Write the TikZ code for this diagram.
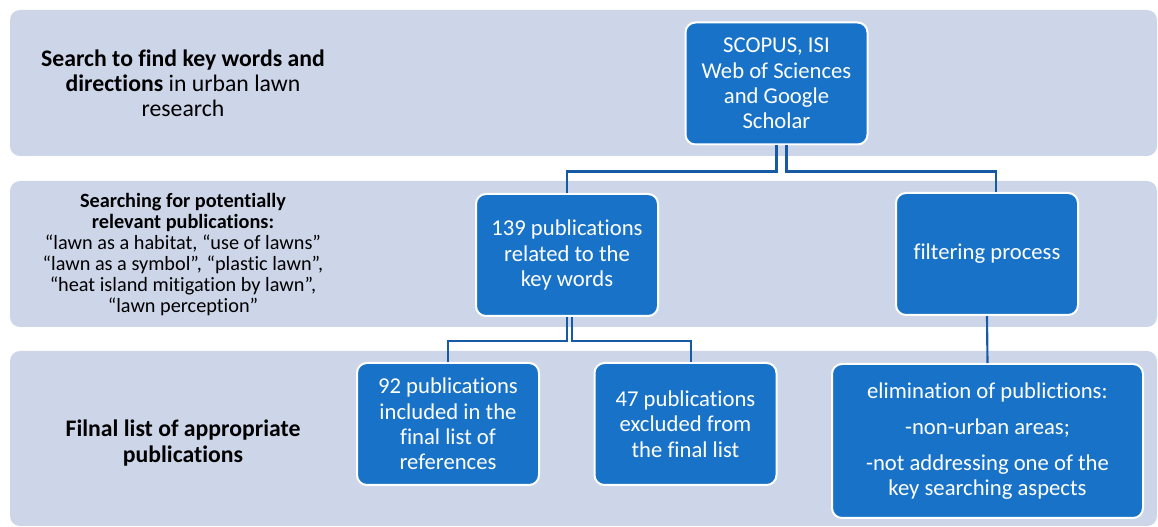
\documentclass[tikz,border=0pt]{standalone}
\usepackage{fontspec}
\setmainfont{Carlito}[Ligatures=NoCommon]
\usepackage{xcolor}
\usetikzlibrary{positioning,calc}

\definecolor{bandgray}{RGB}{205,213,233}
\definecolor{boxblue}{RGB}{24,115,200}
\definecolor{linkblue}{RGB}{22,90,165}

\begin{document}
\begin{tikzpicture}[x=0.75pt, y=-0.75pt,
  band/.style={fill=bandgray, rounded corners=7.5pt},
  stage/.style={align=center, text=black, inner sep=0pt, font=\fontsize{17.8}{18.9}\selectfont},
  stageSmall/.style={align=center, text=black, inner sep=0pt, font=\fontsize{15.2}{15.75}\selectfont},
  box/.style={draw=white, line width=1.5pt, fill=boxblue, rounded corners=7.5pt, text=white,
    align=center, inner sep=0pt, minimum width=136.5pt, minimum height=91.5pt,
    font=\fontsize{17}{19}\selectfont},
  bigbox/.style={box, minimum width=233.25pt, minimum height=115.5pt},
  link/.style={draw=linkblue, line width=1.6pt},
]
  \useasboundingbox (0,0) rectangle (1158,527);

% background bands
  \fill[band] (10,10) rectangle (1157,156);
  \fill[band] (10,181) rectangle (1157,327);
  \fill[band] (10,351) rectangle (1157,526);

% stage labels
  \node[stage] (stage-search) at (183,83)
    {\textbf{Search to find key words and}\\\textbf{directions} in urban lawn\\research};
  \node[stageSmall] (stage-relevant) at (183,255)
    {\textbf{Searching for potentially}\\\textbf{relevant publications:}\\
     “lawn as a habitat, “use of lawns”\\“lawn as a symbol”, “plastic lawn”,\\
     “heat island mitigation by lawn”,\\“lawn perception”};
  \node[stage] (stage-final) at (183,443)
    {\textbf{Filnal list of appropriate}\\\textbf{publications}};

% boxes
  \node[box] (scopus) at (776.5,83.5) {SCOPUS, ISI\\Web of Sciences\\and Google\\Scholar};
  \node[box] (pub139) at (567,255) {139 publications\\related to the\\key words};
  \node[box] (filter) at (987,254) {filtering process};
  \node[box] (pub92) at (448,424) {92 publications\\included in the\\final list of\\references};
  \node[box] (pub47) at (685.5,424) {47 publications\\excluded from\\the final list};
  \node[bigbox] (elim) at (987.5,441)
    {elimination of publictions:\\[8pt]-non-urban areas;\\[8pt]-not addressing one of the\\key searching aspects};

% connectors
  \draw[link] (scopus.south) -- ++(0,26) -| (pub139.north);
  \draw[link] ([xshift=7.5pt]scopus.south) -- ++(0,26) -| ([xshift=6.5pt]filter.north);
  \draw[link] (pub139.south) -- ++(0,24) -| (pub92.north);
  \draw[link] ([xshift=3.75pt]pub139.south) -- ++(0,24) -| ([xshift=4pt]pub47.north);
  \draw[link] (filter.south) -- (elim.north);
\end{tikzpicture}
\end{document}
